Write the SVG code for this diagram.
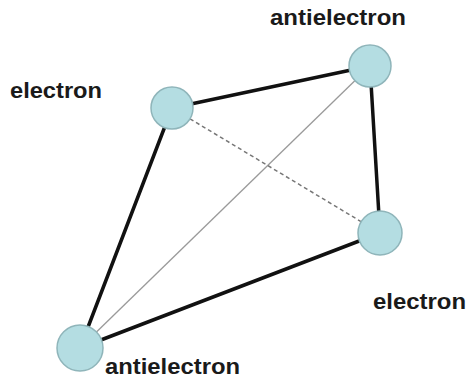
<svg xmlns="http://www.w3.org/2000/svg" width="468" height="381" viewBox="0 0 468 381">
  <style>
    .particle { fill: #b4dde2; stroke: #8fb5ba; stroke-width: 1.5; }
    .label { font-family: "Liberation Sans", Arial, sans-serif; font-weight: bold; font-size: 22px; fill: #1a1a1a; }
    .bond { stroke: #111; stroke-width: 3.5; stroke-linecap: round; fill: none; }
    .thin { stroke: #9a9a9a; stroke-width: 1.3; fill: none; }
    .dashed { stroke: #777; stroke-width: 1.5; stroke-dasharray: 4 3; fill: none; }
  </style>
  <rect width="468" height="381" fill="#ffffff"/>
  <g id="connectors">
    <line class="thin" x1="80" y1="348" x2="370" y2="66"/>
    <line class="dashed" x1="172" y1="108" x2="380" y2="233"/>
    <line class="bond" x1="172" y1="108" x2="370" y2="66"/>
    <line class="bond" x1="370" y1="66" x2="380" y2="233"/>
    <line class="bond" x1="380" y1="233" x2="80" y2="348"/>
    <line class="bond" x1="80" y1="348" x2="172" y2="108"/>
  </g>
  <g id="electron-left">
    <circle class="particle" cx="172" cy="108" r="21"/>
    <text class="label" x="10" y="98" textLength="92" lengthAdjust="spacingAndGlyphs">electron</text>
  </g>
  <g id="antielectron-top">
    <circle class="particle" cx="370" cy="66" r="21"/>
    <text class="label" x="270" y="25" textLength="136" lengthAdjust="spacingAndGlyphs">antielectron</text>
  </g>
  <g id="electron-right">
    <circle class="particle" cx="380" cy="233" r="22"/>
    <text class="label" x="373" y="309" textLength="93" lengthAdjust="spacingAndGlyphs">electron</text>
  </g>
  <g id="antielectron-bottom">
    <circle class="particle" cx="80" cy="348" r="23"/>
    <text class="label" x="105" y="374" textLength="135" lengthAdjust="spacingAndGlyphs">antielectron</text>
  </g>
</svg>
